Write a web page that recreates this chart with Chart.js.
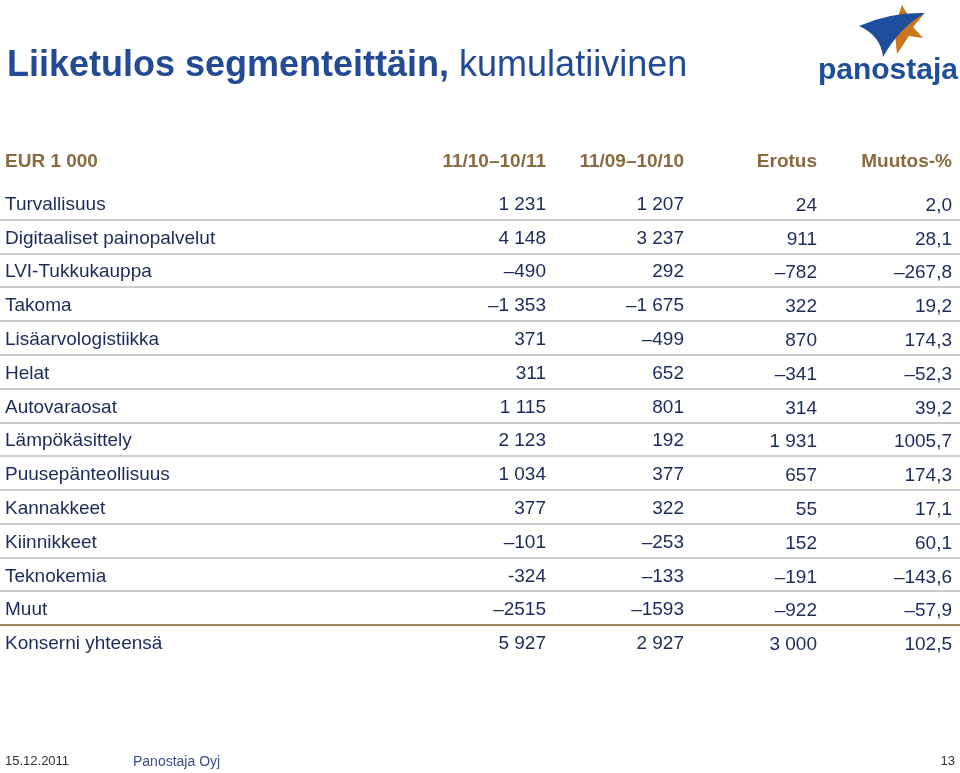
<!DOCTYPE html>
<html>
<head>
<meta charset="utf-8">
<script src="https://cdn.jsdelivr.net/npm/chart.js@4.4.0/dist/chart.umd.min.js"></script>
<style>
html,body{margin:0;padding:0;background:#fff;}
canvas{display:block;}
</style>
</head>
<body>
<canvas id="c" width="960" height="773"></canvas>
<script>
const titleBold = "Liiketulos segmenteittäin,";
const titleNormal = " kumulatiivinen";
const headers = ["EUR 1 000", "11/10–10/11", "11/09–10/10", "Erotus", "Muutos-%"];
const categories = ["Turvallisuus","Digitaaliset painopalvelut","LVI-Tukkukauppa","Takoma","Lisäarvologistiikka","Helat","Autovaraosat","Lämpökäsittely","Puusepänteollisuus","Kannakkeet","Kiinnikkeet","Teknokemia","Muut","Konserni yhteensä"];
const current = ["1 231","4 148","–490","–1 353","371","311","1 115","2 123","1 034","377","–101","-324","–2515","5 927"];
const previous = ["1 207","3 237","292","–1 675","–499","652","801","192","377","322","–253","–133","–1593","2 927"];
const difference = ["24","911","–782","322","870","–341","314","1 931","657","55","152","–191","–922","3 000"];
const changePct = ["2,0","28,1","–267,8","19,2","174,3","–52,3","39,2","1005,7","174,3","17,1","60,1","–143,6","–57,9","102,5"];
const footerDate = "15.12.2011";
const footerCompany = "Panostaja Oyj";
const pageNumber = "13";

function num(s){ return parseFloat(s.replace(/[–-]/,'-').replace(/\s/g,'').replace(',','.')); }

const FONT = '"Liberation Sans", Arial, Helvetica, sans-serif';
const NAVY = '#1c2b57';
const BROWN = '#8a6a3f';
const colRight = [546, 684, 817, 952];

const tablePlugin = {
  id: 'tablePlugin',
  afterDraw(chart) {
    const ctx = chart.ctx;
    const ys = chart.scales.y;
    const n = categories.length;
    ctx.save();
    // title
    ctx.textBaseline = 'alphabetic';
    ctx.textAlign = 'left';
    ctx.fillStyle = '#234a94';
    ctx.font = 'bold 36px ' + FONT;
    ctx.fillText(titleBold, 7, 76);
    const w = ctx.measureText(titleBold).width;
    ctx.font = '36px ' + FONT;
    ctx.fillText(titleNormal, 7 + w, 76);

    // logo star (orange)
    ctx.fillStyle = '#c9761c';
    ctx.beginPath();
    ctx.moveTo(902, 5);
    ctx.lineTo(909, 17);
    ctx.lineTo(924, 14);
    ctx.lineTo(913, 27);
    ctx.lineTo(923, 38);
    ctx.lineTo(909, 36);
    ctx.lineTo(897, 54);
    ctx.lineTo(895, 35);
    ctx.lineTo(885, 25);
    ctx.lineTo(897, 19);
    ctx.closePath();
    ctx.fill();
    // logo swoosh (blue)
    ctx.fillStyle = '#1f4e9c';
    ctx.beginPath();
    ctx.moveTo(859, 26);
    ctx.quadraticCurveTo(890, 12, 925, 13);
    ctx.quadraticCurveTo(899, 28, 883, 57);
    ctx.quadraticCurveTo(881, 36, 859, 26);
    ctx.closePath();
    ctx.fill();
    ctx.font = 'bold 30px ' + FONT;
    ctx.textAlign = 'right';
    ctx.fillStyle = '#1f4e9c';
    ctx.fillText('panostaja', 958, 79);

    // header
    const firstY = ys.getPixelForValue(0);
    const headY = firstY - 43;
    ctx.font = 'bold 19px ' + FONT;
    ctx.fillStyle = BROWN;
    ctx.textAlign = 'left';
    ctx.fillText(headers[0], 5, headY + 7);
    ctx.textAlign = 'right';
    for (let c = 0; c < 4; c++) ctx.fillText(headers[c + 1], colRight[c], headY + 7);

    // separators
    for (let i = 0; i < n - 1; i++) {
      const yb = (ys.getPixelForValue(i) + ys.getPixelForValue(i + 1)) / 2;
      ctx.strokeStyle = (i === n - 2) ? '#a58658' : '#cbcbcf';
      ctx.lineWidth = 2;
      ctx.beginPath();
      ctx.moveTo(0, Math.round(yb));
      ctx.lineTo(960, Math.round(yb));
      ctx.stroke();
    }

    // rows
    ctx.font = '19px ' + FONT;
    ctx.fillStyle = NAVY;
    const cols = [current, previous, difference, changePct];
    for (let i = 0; i < n; i++) {
      const y = ys.getPixelForValue(i) + 7;
      ctx.textAlign = 'left';
      ctx.fillText(categories[i], 5, y);
      ctx.textAlign = 'right';
      for (let c = 0; c < 4; c++) {
        const dy = (c >= 2) ? 1 : 0;
        ctx.fillText(cols[c][i], colRight[c], y + dy);
      }
    }

    // footer
    ctx.textAlign = 'left';
    ctx.font = '13px ' + FONT;
    ctx.fillStyle = '#333333';
    ctx.fillText(footerDate, 5, 765);
    ctx.font = '14px ' + FONT;
    ctx.fillStyle = '#3b4d80';
    ctx.fillText(footerCompany, 133, 766);
    ctx.textAlign = 'right';
    ctx.font = '13px ' + FONT;
    ctx.fillStyle = '#333333';
    ctx.fillText(pageNumber, 955, 765);
    ctx.restore();
  }
};

new Chart(document.getElementById('c'), {
  type: 'bar',
  data: {
    labels: categories,
    datasets: [{
      label: headers[1],
      data: current.map(num),
      backgroundColor: 'rgba(0,0,0,0)',
      borderWidth: 0
    }]
  },
  options: {
    indexAxis: 'y',
    responsive: false,
    animation: false,
    layout: { padding: { top: 186, bottom: 114, left: 0, right: 0 } },
    scales: {
      x: { display: false },
      y: { display: false, offset: true }
    },
    plugins: { legend: { display: false }, tooltip: { enabled: false }, title: { display: false } }
  },
  plugins: [tablePlugin]
});
</script>
</body>
</html>
